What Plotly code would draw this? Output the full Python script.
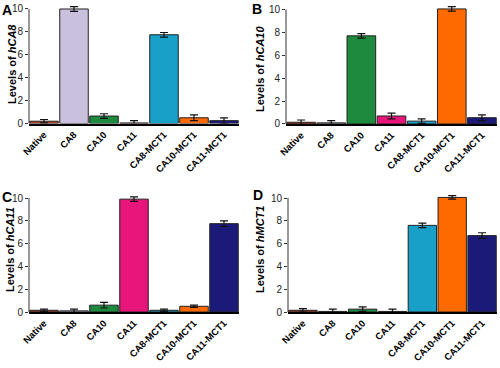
import plotly.graph_objects as go

categories = ["Native", "CA8", "CA10", "CA11", "CA8-MCT1", "CA10-MCT1", "CA11-MCT1"]
colors = ["#b0402a", "#c9c0dd", "#1e8a3e", "#e8157a", "#18a0c8", "#ff6a00", "#1c1a78"]

hCA8 = [0.2, 10.0, 0.65, 0.05, 7.75, 0.5, 0.25]
hCA8_err = [0.15, 0.2, 0.2, 0.2, 0.2, 0.25, 0.25]
hCA10 = [0.15, 0.1, 7.7, 0.7, 0.25, 10.05, 0.55]
hCA10_err = [0.2, 0.2, 0.2, 0.25, 0.2, 0.2, 0.25]
hCA11 = [0.15, 0.1, 0.6, 9.9, 0.15, 0.5, 7.75]
hCA11_err = [0.1, 0.15, 0.25, 0.2, 0.1, 0.1, 0.25]
hMCT1 = [0.15, 0.05, 0.25, 0.05, 7.6, 10.05, 6.7]
hMCT1_err = [0.15, 0.2, 0.2, 0.2, 0.2, 0.15, 0.25]

panels = [
    ("A", "hCA8", hCA8, hCA8_err),
    ("B", "hCA10", hCA10, hCA10_err),
    ("C", "hCA11", hCA11, hCA11_err),
    ("D", "hMCT1", hMCT1, hMCT1_err),
]

W, H = 500, 368
# pixel layout: x_left, x_right, y_zero, y_ten, title_cx, title_cy, letter_x, letter_cy
geo = [
    (29, 239, 123.5, 9, 12, 64, 0, 10),
    (286, 497, 124, 9.5, 260, 69, 250, 9),
    (29, 239, 312, 198, 10, 250, 0, 197),
    (288, 497, 312, 198, 260, 250, 251, 195),
]
YTOP = 10.45

fig = go.Figure()
FONT = "Liberation Sans, Arial, sans-serif"

for i, ((letter, gene, vals, errs), (xl, xr, y0, y10, tx, ty, lx, ly)) in enumerate(zip(panels, geo)):
    n = "" if i == 0 else str(i + 1)
    ppu = (y0 - y10) / 10.0
    ytop_px = y0 - YTOP * ppu
    fig.add_trace(go.Bar(
        x=categories, y=vals,
        marker=dict(color=colors, line=dict(color="#222", width=1)),
        error_y=dict(type="data", array=errs, visible=True, color="#111", thickness=1.2, width=4),
        xaxis="x" + n, yaxis="y" + n, showlegend=False, hoverinfo="skip",
    ))
    fig.layout["xaxis" + n] = dict(
        domain=[xl / W, xr / W], anchor="y" + n, automargin=False,
        tickangle=-45, showline=True, linecolor="black", linewidth=2,
        ticks="", ticklen=2, tickfont=dict(family=FONT, size=9.5, color="black", weight="bold"),
        showgrid=False, zeroline=False, range=[-0.5, 6.5],
    )
    fig.layout["yaxis" + n] = dict(
        domain=[1 - y0 / H, 1 - ytop_px / H], anchor="x" + n, automargin=False,
        range=[0, YTOP], tickvals=[0, 2, 4, 6, 8, 10],
        ticks="outside", ticklen=3, tickcolor="#333", tickwidth=1,
        showline=False, showgrid=False, zeroline=False,
        tickfont=dict(family=FONT, size=10, color="#222"),
    )
    fig.add_shape(type="line", xref="x" + n + " domain", x0=0, x1=0,
                  yref="y" + n, y0=0, y1=10, line=dict(color="#333", width=1))
    fig.add_annotation(text=f"Levels of <i>{gene}</i>", textangle=-90,
                       xref="paper", yref="paper",
                       x=tx / W, y=1 - ty / H,
                       xanchor="center", yanchor="middle", showarrow=False,
                       font=dict(family=FONT, size=11, color="black", weight="bold"))
    fig.add_annotation(text=letter, xref="paper", yref="paper",
                       x=lx / W, y=1 - ly / H,
                       xanchor="left", yanchor="middle", showarrow=False,
                       font=dict(family=FONT, size=14, color="black", weight="bold"))

fig.update_layout(
    width=W, height=H, margin=dict(l=0, r=0, t=0, b=0),
    paper_bgcolor="white", plot_bgcolor="white", bargap=0.05,
)
fig.write_html("out.html", config={"displayModeBar": False},
               post_script="document.body.style.margin='0';document.body.style.overflow='hidden';")
